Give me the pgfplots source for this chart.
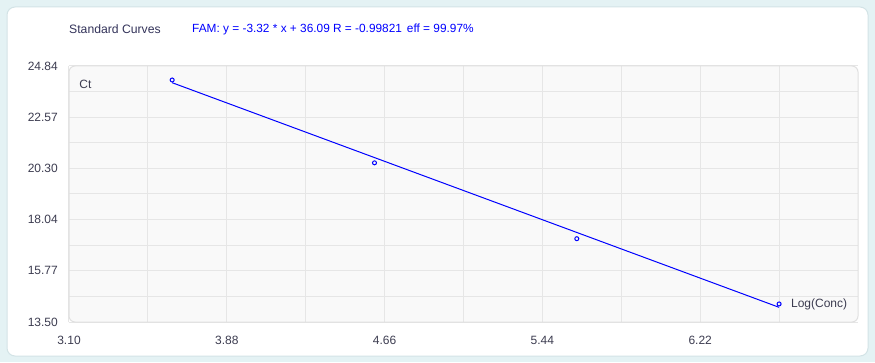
\documentclass[border=0pt]{standalone}
\usepackage{pgfplots}
\pgfplotsset{compat=1.18}
\usepackage{fontspec}
\setmainfont{Liberation Sans}
\definecolor{outerbg}{HTML}{E4F2F4}
\definecolor{panelborder}{HTML}{D3E3E6}
\definecolor{plotbg}{HTML}{F9F9F9}
\definecolor{plotborder}{HTML}{E0E0E0}
\definecolor{gridcol}{HTML}{E6E6E6}
\definecolor{tickcol}{HTML}{3C3C50}
\definecolor{titlecol}{HTML}{33335A}
\definecolor{famblue}{HTML}{0000FF}
\begin{document}
\begin{tikzpicture}[x=1pt,y=1pt]
\useasboundingbox (0,0) rectangle (875,362);
\fill[outerbg] (0,0) rectangle (875,362);
\filldraw[fill=white, draw=panelborder, line width=1pt, rounded corners=8pt] (7,6) rectangle (868,355);
\fill[plotbg, rounded corners=6pt] (69,40) rectangle (858,296);
\node[anchor=west, inner sep=0pt, font=\fontsize{12.2}{14}\selectfont, text=titlecol] at (69,333) {Standard Curves};
\node[anchor=west, inner sep=0pt, font=\fontsize{11.85}{14}\selectfont, text=famblue] at (192,333) {FAM: y = -3.32 * x + 36.09 R = -0.99821\hspace{5pt}eff = 99.97\%};
\begin{axis}[
  at={(69pt,40pt)}, anchor=south west,
  scale only axis, width=789pt, height=256pt,
  xmin=3.10, xmax=7.00, ymin=13.50, ymax=24.84,
  axis line style={draw=none},
  grid=both,
  major grid style={gridcol, line width=1pt},
  minor grid style={gridcol, line width=1pt},
  major tick length=0pt, minor tick length=0pt,
  xtick={3.10,3.88,4.66,5.44,6.22},
  xticklabels={3.10,3.88,4.66,5.44,6.22},
  minor xtick={3.49,4.27,5.05,5.83,6.61},
  ytick={13.50,15.77,18.04,20.30,22.57,24.84},
  yticklabels={13.50,15.77,18.04,20.30,22.57,24.84},
  minor ytick={14.635,16.905,19.17,21.435,23.705},
  ticklabel style={font=\fontsize{12}{14}\selectfont, text=tickcol},
  xticklabel style={anchor=north, inner sep=0pt, yshift=-14pt},
  yticklabel style={anchor=east, inner sep=0pt, xshift=-11pt},
  clip=false,
]
\addplot[famblue, line width=1pt, no marks] coordinates {(3.61,24.10) (6.61,14.15)};
\addplot[famblue, only marks, mark=o, mark size=2pt, mark options={fill=white, line width=1pt}] coordinates {(3.61,24.22) (4.61,20.55) (5.61,17.19) (6.61,14.30)};
\node[anchor=west, inner sep=0pt, font=\fontsize{12}{14}\selectfont, text=tickcol] at (rel axis cs:0.013,0.93) {Ct};
\node[anchor=west, inner sep=0pt, font=\fontsize{12}{14}\selectfont, text=tickcol] at (rel axis cs:0.915,0.07) {Log(Conc)};
\end{axis}
\draw[plotborder, line width=1pt, rounded corners=6pt] (69,40) rectangle (858,296);
\end{tikzpicture}
\end{document}
